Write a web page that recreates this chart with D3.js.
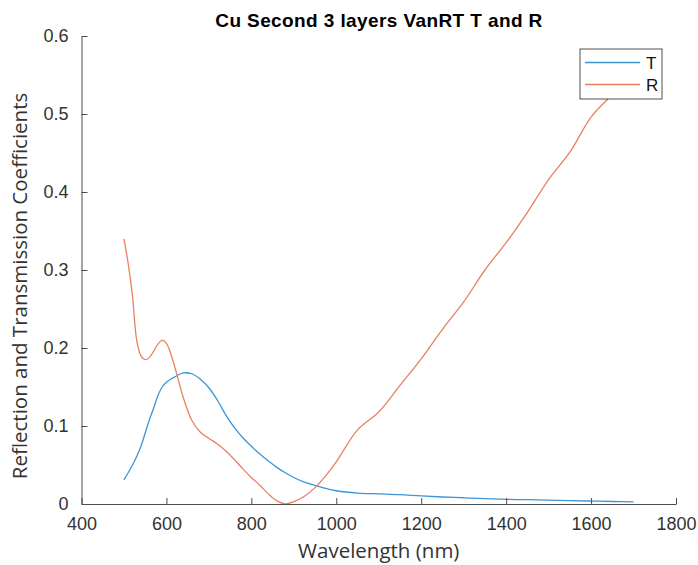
<!DOCTYPE html>
<html>
<head>
<meta charset="utf-8">
<script src="https://cdn.jsdelivr.net/npm/d3@7"></script>
<style>
  body { margin: 0; background: #fff; }
  svg text { fill: #262626; }
</style>
</head>
<body>
<svg width="698" height="565"></svg>
<script>
// wavelength samples (nm)
var wavelength = [500, 510, 520, 530, 540, 550, 560, 570, 580, 590, 600, 610, 620, 640, 660, 680, 700, 720, 740, 760, 780, 800,
	820, 840, 860, 880, 900, 925, 950, 975, 1000, 1050, 1100, 1150, 1200, 1250, 1300, 1350, 1400, 1450, 1500, 1550, 1600, 1650, 1700];

var tValues = [0.031, 0.040, 0.050, 0.061, 0.074, 0.091, 0.108, 0.123, 0.139, 0.150, 0.156, 0.160, 0.163, 0.168, 0.167, 0.160, 0.149, 0.133, 0.114, 0.098, 0.085, 0.074,
	0.064, 0.055, 0.047, 0.040, 0.034, 0.028, 0.024, 0.020, 0.017, 0.014, 0.013, 0.012, 0.0103, 0.009, 0.008, 0.007, 0.006, 0.0055, 0.005, 0.0043, 0.0038, 0.0032, 0.0026];

var rValues = [0.340, 0.308, 0.267, 0.210, 0.190, 0.185, 0.188, 0.196, 0.205, 0.210, 0.206, 0.193, 0.175, 0.136, 0.107, 0.092, 0.084, 0.077, 0.068, 0.057, 0.045, 0.034,
	0.024, 0.013, 0.004, 0.000, 0.003, 0.010, 0.021, 0.036, 0.054, 0.095, 0.118, 0.152, 0.186, 0.224, 0.259, 0.300, 0.335, 0.374, 0.416, 0.451, 0.496, 0.525, 0.555];

var xTicks = [400, 600, 800, 1000, 1200, 1400, 1600, 1800];
var yTicks = [0, 0.1, 0.2, 0.3, 0.4, 0.5, 0.6];
var seriesNames = ["T", "R"];
var seriesColors = ["#3d95d5", "#e6825e"];

var svg = d3.select("svg"),
	margin = { top: 36, right: 22, bottom: 61, left: 81.5 },
	width = +svg.attr("width") - margin.left - margin.right,
	height = +svg.attr("height") - margin.top - margin.bottom;

var x = d3.scaleLinear().domain([400, 1800]).range([0, width]),
	y = d3.scaleLinear().domain([0, 0.6]).range([height, 0]);

var g = svg.append("g")
	.attr("transform", "translate(" + margin.left + "," + margin.top + ")");

// lines first, axes on top
var line = d3.line()
	.x(function(d) { return x(d[0]); })
	.y(function(d) { return y(d[1]); })
	.curve(d3.curveCatmullRom.alpha(0.5));

[tValues, rValues].forEach(function(vals, i) {
	g.append("path")
		.datum(wavelength.map(function(w, j) { return [w, vals[j]]; }))
		.attr("fill", "none")
		.attr("stroke", seriesColors[i])
		.attr("stroke-width", 1.3)
		.attr("d", line);
});

var tickFont = "'Liberation Sans', Arial, sans-serif";

var xAxis = g.append("g")
	.attr("transform", "translate(0," + height + ")")
	.call(d3.axisBottom(x).tickValues(xTicks).tickSizeInner(-6).tickSizeOuter(0).tickPadding(13)
		.tickFormat(d3.format("d")));

var yAxis = g.append("g")
	.call(d3.axisLeft(y).tickValues(yTicks).tickSizeInner(-6).tickSizeOuter(0).tickPadding(13)
		.tickFormat(function(d) { return d === 0 ? "0" : d3.format(".1f")(d); }));

[xAxis, yAxis].forEach(function(ax) {
	ax.select(".domain").attr("stroke", "#4d4d4d");
	ax.selectAll(".tick line").attr("stroke", "#4d4d4d");
	ax.selectAll(".tick text")
		.style("font-family", tickFont)
		.style("font-size", "18px")
		.style("fill", "#333");
});

// axis labels
svg.append("text")
	.attr("x", margin.left + width / 2)
	.attr("y", 558)
	.attr("text-anchor", "middle")
	.style("font-family", "'Open Sans', sans-serif")
	.style("font-size", "20.5px")
	.style("fill", "#333")
	.text("Wavelength (nm)");

svg.append("text")
	.attr("transform", "translate(27," + (margin.top + height / 2 + 16) + ") rotate(-90)")
	.attr("text-anchor", "middle")
	.style("font-family", "'Open Sans', sans-serif")
	.style("font-size", "20.5px")
	.style("fill", "#333")
	.text("Reflection and Transmission Coefficients");

// title
svg.append("text")
	.attr("x", 379)
	.attr("y", 27)
	.attr("text-anchor", "middle")
	.style("font-family", tickFont)
	.style("font-weight", "bold")
	.style("font-size", "19px")
	.style("letter-spacing", "0.4px")
	.style("fill", "#000")
	.text("Cu Second 3 layers VanRT T and R");

// legend
var legend = svg.append("g").attr("transform", "translate(580,49)");
legend.append("rect")
	.attr("width", 82).attr("height", 50)
	.attr("fill", "#fff").attr("stroke", "#262626").attr("stroke-width", 0.8);
seriesNames.forEach(function(name, i) {
	var ly = 13.5 + i * 22;
	legend.append("line")
		.attr("x1", 5).attr("x2", 60).attr("y1", ly).attr("y2", ly)
		.attr("stroke", seriesColors[i]).attr("stroke-width", 1.3);
	legend.append("text")
		.attr("x", 66).attr("y", ly + 6)
		.style("font-family", tickFont)
		.style("font-size", "17px")
		.style("fill", "#111")
		.text(name);
});
</script>
</body>
</html>
